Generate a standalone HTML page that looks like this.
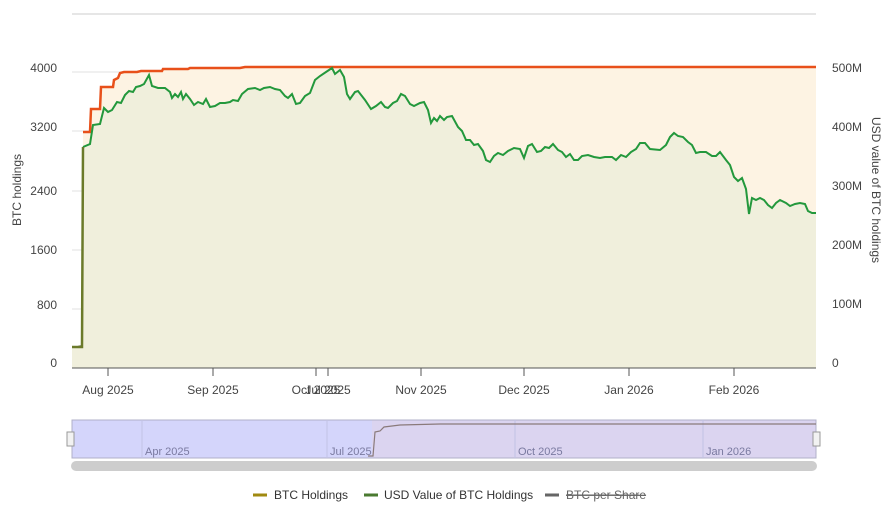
<!DOCTYPE html>
<html><head><meta charset="utf-8"><style>
body{margin:0;background:#fff;}
svg{display:block;font-family:"Liberation Sans",sans-serif;}
</style></head><body>
<svg width="896" height="511" viewBox="0 0 896 511">
<line x1="72" y1="14" x2="816" y2="14" stroke="#e6e6e6" stroke-width="2"/>
<g stroke="#e2e2e2" stroke-width="1">
<line x1="72" y1="72" x2="816" y2="72"/><line x1="72" y1="131" x2="816" y2="131"/>
<line x1="72" y1="191" x2="816" y2="191"/><line x1="72" y1="250" x2="816" y2="250"/>
<line x1="72" y1="309" x2="816" y2="309"/></g>
<!-- orange area -->
<path d="M72,347 L82,347 L83,132 L90,132 L91,109 L100,109 L101,87 L113,87 L114,80 L118,78 L120,73 L124,72 L137,72 L141,71 L162,71 L163,69 L188,69 L190,68 L240,68 L245,67 L816,67 L816,368 L72,368 Z" fill="#fdf3e3"/>
<path id="g" d="M72,347 L82,347 L83,147 L90,144 L93,125 L100,124 L104,108 L108,112 L112,110 L117,102 L121,103 L125,95 L129,91 L133,92 L136,87 L140,86 L144,84 L149,75 L152,86 L158,88 L165,88 L170,92 L172,98 L175,94 L178,97 L181,92 L183,99 L186,94 L190,99 L194,105 L198,102 L203,104 L206,99 L210,107 L215,106 L220,103 L225,103 L230,102 L233,100 L238,101 L242,94 L248,89 L255,88 L260,90 L264,88 L270,87 L275,89 L280,90 L285,96 L288,98 L292,94 L296,104 L300,103 L305,96 L310,93 L315,80 L320,76 L326,72 L332,68 L335,74 L340,70 L344,77 L347,94 L350,99 L355,92 L358,91 L365,100 L371,109 L376,106 L381,102 L385,107 L388,108 L393,103 L397,101 L401,94 L405,96 L410,104 L414,106 L420,103 L424,102 L428,110 L431,123 L434,118 L437,121 L440,116 L444,120 L447,117 L452,116 L458,127 L462,131 L466,140 L470,140 L474,145 L478,144 L483,151 L486,160 L490,162 L494,156 L498,153 L503,155 L508,151 L514,148 L520,149 L524,158 L528,146 L532,144 L537,152 L541,151 L545,147 L549,148 L553,144 L558,150 L562,152 L566,157 L570,154 L574,160 L578,160 L582,156 L588,155 L594,157 L600,158 L605,157 L612,157 L616,160 L621,155 L626,157 L631,152 L636,149 L640,143 L645,143 L650,149 L660,150 L666,145 L670,137 L674,133 L678,136 L683,137 L688,142 L692,145 L696,153 L700,152 L706,152 L712,156 L716,156 L720,152 L726,160 L730,165 L734,177 L738,181 L742,178 L746,189 L749,214 L752,198 L756,200 L760,198 L764,200 L768,205 L772,208 L776,203 L780,200 L786,203 L790,206 L795,204 L800,203 L805,204 L808,211 L812,213 L816,213"/>
<path d="M72,347 L82,347 L83,147 L90,144 L93,125 L100,124 L104,108 L108,112 L112,110 L117,102 L121,103 L125,95 L129,91 L133,92 L136,87 L140,86 L144,84 L149,75 L152,86 L158,88 L165,88 L170,92 L172,98 L175,94 L178,97 L181,92 L183,99 L186,94 L190,99 L194,105 L198,102 L203,104 L206,99 L210,107 L215,106 L220,103 L225,103 L230,102 L233,100 L238,101 L242,94 L248,89 L255,88 L260,90 L264,88 L270,87 L275,89 L280,90 L285,96 L288,98 L292,94 L296,104 L300,103 L305,96 L310,93 L315,80 L320,76 L326,72 L332,68 L335,74 L340,70 L344,77 L347,94 L350,99 L355,92 L358,91 L365,100 L371,109 L376,106 L381,102 L385,107 L388,108 L393,103 L397,101 L401,94 L405,96 L410,104 L414,106 L420,103 L424,102 L428,110 L431,123 L434,118 L437,121 L440,116 L444,120 L447,117 L452,116 L458,127 L462,131 L466,140 L470,140 L474,145 L478,144 L483,151 L486,160 L490,162 L494,156 L498,153 L503,155 L508,151 L514,148 L520,149 L524,158 L528,146 L532,144 L537,152 L541,151 L545,147 L549,148 L553,144 L558,150 L562,152 L566,157 L570,154 L574,160 L578,160 L582,156 L588,155 L594,157 L600,158 L605,157 L612,157 L616,160 L621,155 L626,157 L631,152 L636,149 L640,143 L645,143 L650,149 L660,150 L666,145 L670,137 L674,133 L678,136 L683,137 L688,142 L692,145 L696,153 L700,152 L706,152 L712,156 L716,156 L720,152 L726,160 L730,165 L734,177 L738,181 L742,178 L746,189 L749,214 L752,198 L756,200 L760,198 L764,200 L768,205 L772,208 L776,203 L780,200 L786,203 L790,206 L795,204 L800,203 L805,204 L808,211 L812,213 L816,213 L816,368 L72,368 Z" fill="#f0efdc"/>
<path d="M83,132 L90,132 L91,109 L100,109 L101,87 L113,87 L114,80 L118,78 L120,73 L124,72 L137,72 L141,71 L162,71 L163,69 L188,69 L190,68 L240,68 L245,67 L816,67" fill="none" stroke="#e8501a" stroke-width="2.5"/>
<path d="M83,147 L90,144 L93,125 L100,124 L104,108 L108,112 L112,110 L117,102 L121,103 L125,95 L129,91 L133,92 L136,87 L140,86 L144,84 L149,75 L152,86 L158,88 L165,88 L170,92 L172,98 L175,94 L178,97 L181,92 L183,99 L186,94 L190,99 L194,105 L198,102 L203,104 L206,99 L210,107 L215,106 L220,103 L225,103 L230,102 L233,100 L238,101 L242,94 L248,89 L255,88 L260,90 L264,88 L270,87 L275,89 L280,90 L285,96 L288,98 L292,94 L296,104 L300,103 L305,96 L310,93 L315,80 L320,76 L326,72 L332,68 L335,74 L340,70 L344,77 L347,94 L350,99 L355,92 L358,91 L365,100 L371,109 L376,106 L381,102 L385,107 L388,108 L393,103 L397,101 L401,94 L405,96 L410,104 L414,106 L420,103 L424,102 L428,110 L431,123 L434,118 L437,121 L440,116 L444,120 L447,117 L452,116 L458,127 L462,131 L466,140 L470,140 L474,145 L478,144 L483,151 L486,160 L490,162 L494,156 L498,153 L503,155 L508,151 L514,148 L520,149 L524,158 L528,146 L532,144 L537,152 L541,151 L545,147 L549,148 L553,144 L558,150 L562,152 L566,157 L570,154 L574,160 L578,160 L582,156 L588,155 L594,157 L600,158 L605,157 L612,157 L616,160 L621,155 L626,157 L631,152 L636,149 L640,143 L645,143 L650,149 L660,150 L666,145 L670,137 L674,133 L678,136 L683,137 L688,142 L692,145 L696,153 L700,152 L706,152 L712,156 L716,156 L720,152 L726,160 L730,165 L734,177 L738,181 L742,178 L746,189 L749,214 L752,198 L756,200 L760,198 L764,200 L768,205 L772,208 L776,203 L780,200 L786,203 L790,206 L795,204 L800,203 L805,204 L808,211 L812,213 L816,213" fill="none" stroke="#23983c" stroke-width="2"/>
<path d="M72,347 L82,347 L83,147" fill="none" stroke="#6b7a2a" stroke-width="2.5"/>
<line x1="72" y1="368" x2="816" y2="368" stroke="#555" stroke-width="1"/>
<g stroke="#555"><line x1="108" y1="368" x2="108" y2="376"/><line x1="213" y1="368" x2="213" y2="376"/><line x1="316" y1="368" x2="316" y2="376"/><line x1="328" y1="368" x2="328" y2="376"/><line x1="421" y1="368" x2="421" y2="376"/><line x1="524" y1="368" x2="524" y2="376"/><line x1="629" y1="368" x2="629" y2="376"/><line x1="734" y1="368" x2="734" y2="376"/></g>
<g font-size="12" fill="#444" text-anchor="middle">
<text x="108" y="394">Aug 2025</text><text x="213" y="394">Sep 2025</text><text x="316" y="394">Oct 2025</text><text x="328" y="394">Jul 2025</text><text x="421" y="394">Nov 2025</text><text x="524" y="394">Dec 2025</text><text x="629" y="394">Jan 2026</text><text x="734" y="394">Feb 2026</text></g>
<g font-size="12" fill="#444" text-anchor="end">
<text x="57" y="72">4000</text><text x="57" y="131">3200</text><text x="57" y="195">2400</text><text x="57" y="254">1600</text><text x="57" y="309">800</text><text x="57" y="367">0</text></g>
<g font-size="12" fill="#444">
<text x="832" y="72">500M</text><text x="832" y="131">400M</text><text x="832" y="190">300M</text><text x="832" y="249">200M</text><text x="832" y="308">100M</text><text x="832" y="367">0</text></g>
<text transform="translate(21,190) rotate(-90)" font-size="12" fill="#444" text-anchor="middle">BTC holdings</text>
<text transform="translate(872,190) rotate(90)" font-size="12" fill="#444" text-anchor="middle">USD value of BTC holdings</text>
<!-- navigator -->
<rect x="72" y="420" width="744" height="38" fill="#d4d5fb"/>
<rect x="372" y="420" width="444" height="38" fill="#dbd4f0"/>
<rect x="72" y="420" width="744" height="38" fill="none" stroke="#b0b0c8"/>
<g stroke="#c2c2e4"><line x1="142" y1="420" x2="142" y2="458"/><line x1="327" y1="420" x2="327" y2="458"/><line x1="515" y1="420" x2="515" y2="458"/><line x1="703" y1="420" x2="703" y2="458"/></g>
<g font-size="11" fill="#7a7aa0"><text x="145" y="455">Apr 2025</text><text x="330" y="455">Jul 2025</text><text x="518" y="455">Oct 2025</text><text x="706" y="455">Jan 2026</text></g>
<path d="M368,456 L373,456 L375,432 L380,431 L384,427 L392,426 L400,425 L440,424 L816,424" fill="none" stroke="#8a7a7a" stroke-width="1.2"/>
<rect x="67" y="432" width="7" height="14" fill="#f2f2f2" stroke="#999"/>
<rect x="813" y="432" width="7" height="14" fill="#f2f2f2" stroke="#999"/>
<rect x="71" y="461" width="746" height="10" rx="5" fill="#cdcdcd"/>
<!-- legend -->
<g font-size="12" fill="#333">
<line x1="253" y1="495" x2="267" y2="495" stroke="#a08a10" stroke-width="3"/><text x="274" y="499">BTC Holdings</text>
<line x1="364" y1="495" x2="378" y2="495" stroke="#4a7a30" stroke-width="3"/><text x="384" y="499">USD Value of BTC Holdings</text>
<line x1="545" y1="495" x2="559" y2="495" stroke="#666" stroke-width="3"/><text x="566" y="499" fill="#666" text-decoration="line-through">BTC per Share</text>
<line x1="566" y1="495" x2="639" y2="495" stroke="#666" stroke-width="1"/>
</g>
</svg>
</body></html>
